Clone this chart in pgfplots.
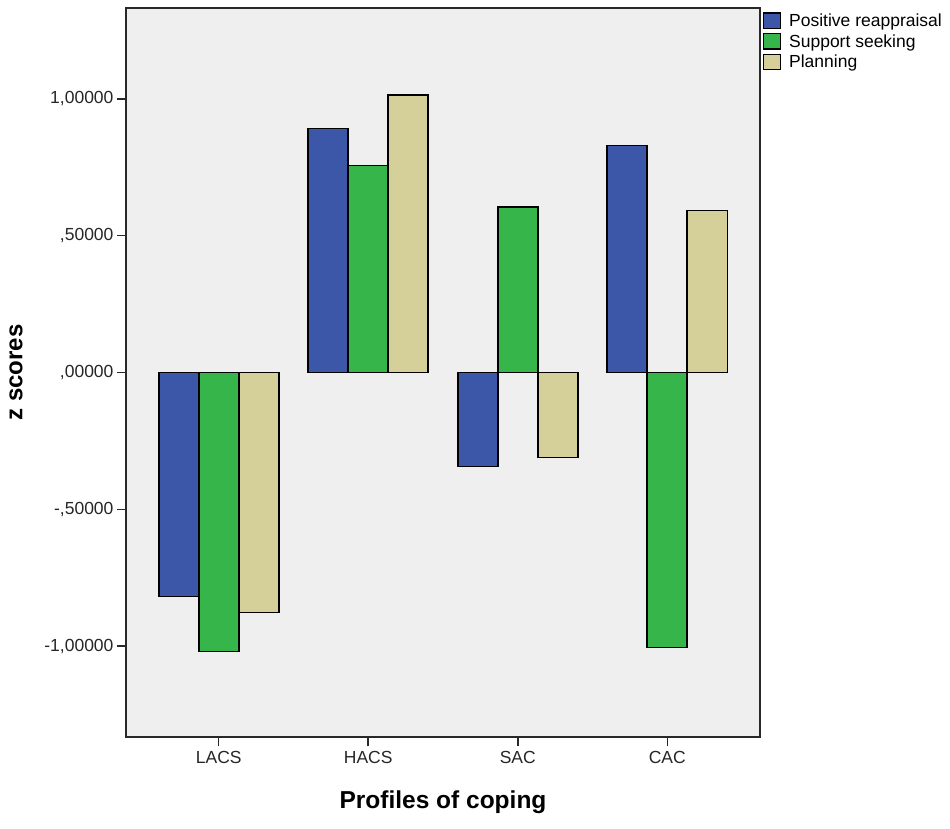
\documentclass[border=0pt]{standalone}
\usepackage{pgfplots}
\pgfplotsset{compat=1.18}
\usepackage{fontspec}
\setmainfont{Liberation Sans}
\definecolor{cblue}{RGB}{60,86,168}
\definecolor{cgreen}{RGB}{54,182,74}
\definecolor{ctan}{RGB}{213,208,154}
\definecolor{bg}{RGB}{239,239,239}
\definecolor{axline}{RGB}{40,40,40}
\begin{document}
\begin{tikzpicture}
\begin{axis}[
  at={(0,0)}, anchor=south west,
  scale only axis, width=634pt, height=729pt,
  xmin=-0.62, xmax=3.62, ymin=-1.332, ymax=1.332,
  axis background/.style={fill=bg},
  axis line style={axline, line width=1.8pt},
  ybar=0pt, bar width=40pt,
  xtick={0,1,2,3}, xticklabels={LACS,HACS,SAC,CAC},
  ytick={-1,-0.5,0,0.5,1},
  yticklabels={{-1,00000},{-,50000},{,00000},{,50000},{1,00000}},
  tick align=outside, xtick pos=bottom, ytick pos=left,
  major tick length=9pt,
  tick style={axline, line width=1.5pt},
  ticklabel style={font=\fontsize{17.5}{20}\selectfont, text=black!85},
  xticklabel style={yshift=-2pt},
  xlabel={Profiles of coping}, ylabel={z scores},
  xlabel style={at={(axis description cs:0.5,-0.089)}, anchor=center, font=\fontsize{24.5}{28}\selectfont\bfseries},
  ylabel style={at={(axis description cs:-0.1735,0.5)}, anchor=center, font=\fontsize{24}{28}\selectfont\bfseries},
  legend style={at={(axis description cs:1.004,0.995)}, anchor=north west, draw=none, fill=none,
     font=\fontsize{17.5}{20}\selectfont, row sep=2.5pt, column sep=6pt, inner sep=0pt,
     nodes={inner sep=2pt}},
  legend cell align=left,
  legend image code/.code={\draw[#1, draw=black, line width=1.4pt] (0pt,-7.5pt) rectangle (17pt,8pt);},
]
\addplot[fill=cblue, draw=black, line width=1.6pt] coordinates {(0,-0.819) (1,0.891) (2,-0.343) (3,0.830)};
\addplot[fill=cgreen, draw=black, line width=1.6pt] coordinates {(0,-1.019) (1,0.756) (2,0.604) (3,-1.005)};
\addplot[fill=ctan, draw=black, line width=1.6pt] coordinates {(0,-0.877) (1,1.015) (2,-0.311) (3,0.592)};
\legend{Positive reappraisal, Support seeking, Planning}
\end{axis}
\pgfresetboundingbox
\useasboundingbox (-126pt,-91pt) rectangle (824pt,737pt);
\end{tikzpicture}
\end{document}
